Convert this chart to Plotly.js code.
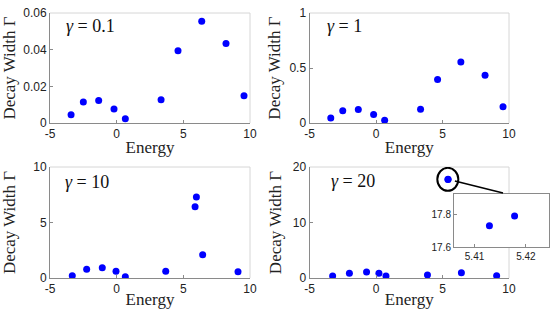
<!DOCTYPE html>
<html><head><meta charset="utf-8">
<script src="https://cdn.plot.ly/plotly-3.0.1.min.js"></script>
<style>html,body{margin:0;padding:0;background:#fff}#chart{width:554px;height:309px}</style>
</head><body><div id="chart"></div>
<script>
// Panel data (Energy vs Decay Width Γ)
const energyG01 = [-3.42, -2.5, -1.35, -0.2, 0.65, 3.33, 4.6, 6.38, 8.2, 9.55];
const widthG01  = [0.0045, 0.0114, 0.0123, 0.0076, 0.0023, 0.0127, 0.0394, 0.0555, 0.0434, 0.0148];
const energyG1  = [-3.4, -2.5, -1.33, -0.18, 0.65, 3.35, 4.63, 6.38, 8.2, 9.55];
const widthG1   = [0.045, 0.111, 0.123, 0.078, 0.024, 0.126, 0.395, 0.554, 0.434, 0.148];
const energyG10 = [-3.33, -2.25, -1.08, -0.05, 0.65, 3.68, 5.88, 5.98, 6.45, 9.1];
const widthG10  = [0.21, 0.78, 0.93, 0.6, 0.12, 0.6, 6.43, 7.3, 2.1, 0.57];
const energyG20 = [-3.26, -2.0, -0.71, 0.22, 0.75, 3.87, 5.4129, 5.4178, 6.42, 9.07];
const widthG20  = [0.36, 0.84, 1.08, 0.84, 0.36, 0.54, 17.73, 17.79, 0.96, 0.42];

const gammaLabels = ['0.1', '1', '10', '20'];
const xTickVals = [-5, 0, 5, 10];
const xTickText = ['-5', '0', '5', '10'];
const yTickVals1 = [0, 0.02, 0.04, 0.06]; const yTickText1 = ['0', '0.02', '0.04', '0.06'];
const yTickVals2 = [0, 0.5, 1];           const yTickText2 = ['0', '0.5', '1'];
const yTickVals3 = [0, 5, 10];            const yTickText3 = ['0', '5', '10'];
const yTickVals4 = [0, 10, 20];           const yTickText4 = ['0', '10', '20'];
const yRanges = [[0, 0.06], [0, 1], [0, 10], [0, 20]];
const xRange = [-5, 10];
// inset (zoom of the γ = 20 peak)
const insetXRange = [5.406, 5.4245];
const insetYRange = [17.6, 17.925];
const insetXTickVals = [5.41, 5.42]; const insetXTickText = ['5.41', '5.42'];
const insetYTickVals = [17.6, 17.8]; const insetYTickText = ['17.6', '17.8'];

const W = 554, H = 309;
const px2x = p => p / W;
const px2y = p => 1 - p / H;

const tickFont = {family: 'Liberation Sans, Arial, sans-serif', size: 12, color: '#222'};
const titleFont = {family: 'Liberation Serif, Times New Roman, serif', size: 17, color: '#222'};
const axisGray = '#8a8a8a', frameGray = '#d6d6d6';

function xAxis(domain, anchor, standoff) {
  return {domain, anchor, range: xRange, tickmode: 'array', tickvals: xTickVals, ticktext: xTickText,
    ticks: 'inside', ticklen: 3, tickcolor: axisGray, showline: true, linecolor: axisGray, linewidth: 1,
    mirror: false, showgrid: false, zeroline: false, tickfont: tickFont, fixedrange: true,
    title: {text: 'Energy', font: titleFont, standoff}};
}
function yAxis(domain, anchor, range, tv, tt, standoff) {
  return {domain, anchor, range, tickmode: 'array', tickvals: tv, ticktext: tt,
    ticks: 'inside', ticklen: 3, tickcolor: axisGray, showline: true, linecolor: axisGray, linewidth: 1,
    mirror: false, showgrid: false, zeroline: false, tickfont: tickFont, fixedrange: true,
    title: {text: 'Decay Width Γ', font: titleFont, standoff}};
}

const marker = {color: '#0000ff', size: 7};
const traces = [
  {x: energyG01, y: widthG01, xaxis: 'x', yaxis: 'y', mode: 'markers', type: 'scatter', marker, name: 'γ = 0.1'},
  {x: energyG1, y: widthG1, xaxis: 'x2', yaxis: 'y2', mode: 'markers', type: 'scatter', marker, name: 'γ = 1'},
  {x: energyG10, y: widthG10, xaxis: 'x3', yaxis: 'y3', mode: 'markers', type: 'scatter', marker, name: 'γ = 10'},
  {x: energyG20, y: widthG20, xaxis: 'x4', yaxis: 'y4', mode: 'markers', type: 'scatter', marker, name: 'γ = 20'},
  {x: energyG20, y: widthG20, xaxis: 'x5', yaxis: 'y5', mode: 'markers', type: 'scatter', marker, name: 'γ = 20 (zoom)'}
];

const xdL = [px2x(50), px2x(250)], xdR = [px2x(309.5), px2x(509)];
const ydT = [px2y(123), px2y(13)], ydB = [px2y(278), px2y(167)];

const layout = {
  width: W, height: H, margin: {l: 0, r: 0, t: 0, b: 0},
  paper_bgcolor: '#fff', plot_bgcolor: '#fff', showlegend: false,
  xaxis: xAxis(xdL, 'y', 0),
  yaxis: yAxis(ydT, 'x', yRanges[0], yTickVals1, yTickText1, 5),
  xaxis2: xAxis(xdR, 'y2', 0),
  yaxis2: yAxis(ydT, 'x2', yRanges[1], yTickVals2, yTickText2, 4),
  xaxis3: xAxis(xdL, 'y3', 0),
  yaxis3: yAxis(ydB, 'x3', yRanges[2], yTickVals3, yTickText3, 18),
  xaxis4: xAxis(xdR, 'y4', 0),
  yaxis4: yAxis(ydB, 'x4', yRanges[3], yTickVals4, yTickText4, 6),
  xaxis5: {domain: [px2x(454), px2x(549)], anchor: 'y5', range: insetXRange, tickmode: 'array',
    tickvals: insetXTickVals, ticktext: insetXTickText, ticks: 'inside', ticklen: 3, tickcolor: axisGray,
    showline: true, linecolor: axisGray, mirror: true, showgrid: false, zeroline: false,
    tickfont: {family: tickFont.family, size: 10, color: '#222'}, fixedrange: true},
  yaxis5: {domain: [px2y(247), px2y(194)], anchor: 'x5', range: insetYRange, tickmode: 'array',
    tickvals: insetYTickVals, ticktext: insetYTickText, ticks: 'inside', ticklen: 3, tickcolor: axisGray,
    showline: true, linecolor: axisGray, mirror: true, showgrid: false, zeroline: false,
    tickfont: {family: tickFont.family, size: 10, color: '#222'}, fixedrange: true},
  annotations: [],
  shapes: []
};

const subplotIds = ['', '2', '3', '4'];
const gammaPos = [[0.07, 0.882], [0.08, 0.882], [0.065, 0.868], [0.10, 0.877]];
subplotIds.forEach((id, i) => {
  layout.annotations.push({xref: 'x' + id + ' domain', yref: 'y' + id + ' domain',
    x: gammaPos[i][0], y: gammaPos[i][1], xanchor: 'left', yanchor: 'middle', showarrow: false,
    text: '<i>γ</i> = ' + gammaLabels[i],
    font: {family: 'Liberation Serif, Times New Roman, serif', size: 18, color: '#111'}});
  // light top and right frame
  layout.shapes.push({type: 'line', xref: 'x' + id + ' domain', yref: 'y' + id + ' domain',
    x0: 0, x1: 1, y0: 1, y1: 1, line: {color: frameGray, width: 1}, layer: 'below'});
  layout.shapes.push({type: 'line', xref: 'x' + id + ' domain', yref: 'y' + id + ' domain',
    x0: 1, x1: 1, y0: 0, y1: 1, line: {color: frameGray, width: 1}, layer: 'below'});
});
// ellipse around the γ = 20 peak and connector to the inset
layout.shapes.push({type: 'circle', xref: 'x4', yref: 'y4', x0: 4.61, x1: 6.19, y0: 15.7, y1: 19.85,
  line: {color: '#000', width: 2}, layer: 'above'});
layout.shapes.push({type: 'line', xref: 'x4', yref: 'y4', x0: 5.93, y0: 17.48, x1: 9.55, y1: 15.3,
  line: {color: '#000', width: 1.5}, layer: 'above'});

Plotly.newPlot('chart', traces, layout, {staticPlot: true, displayModeBar: false});
</script>
</body></html>
